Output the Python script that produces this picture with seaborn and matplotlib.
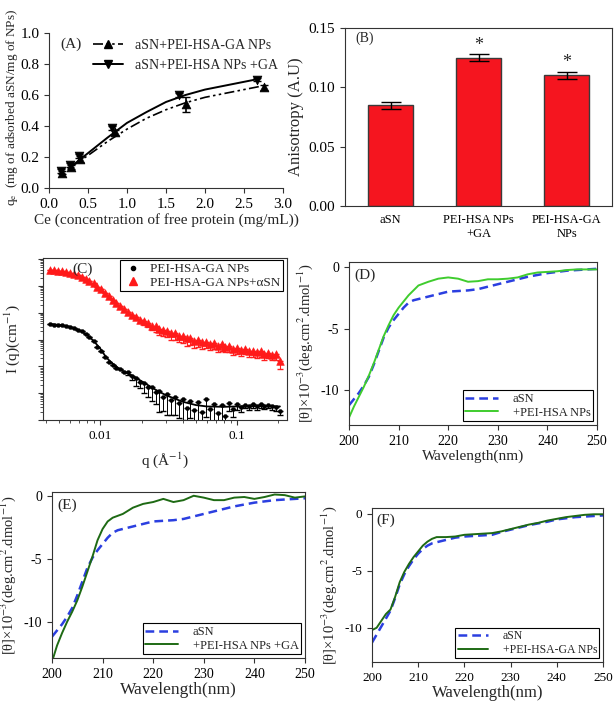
import numpy as np
import pandas as pd
import seaborn as sns
import matplotlib.pyplot as plt
from matplotlib.lines import Line2D
from matplotlib.ticker import LogLocator, NullFormatter

# (A) adsorption isotherm
ce_ga = [0.17, 0.28, 0.40, 0.84, 1.76, 2.76]
qe_ga = [0.10, 0.135, 0.185, 0.36, 0.54, 0.65]
qe_ga_err = [0.01, 0.015, 0.02, 0.015, 0.05, 0.015]
ce_np = [0.15, 0.27, 0.38, 0.81, 1.67, 2.67]
qe_np = [0.11, 0.15, 0.205, 0.385, 0.60, 0.70]
qe_np_err = [0.01, 0.012, 0.012, 0.012, 0.012, 0.008]
fit_ce = [0.25, 0.5, 0.75, 1.0, 1.25, 1.5, 1.75, 2.0, 2.25, 2.5, 2.7]
fit_np = [0.125, 0.225, 0.325, 0.42, 0.49, 0.555, 0.60, 0.635, 0.66, 0.685, 0.705]
fit_ga = [0.125, 0.21, 0.30, 0.38, 0.45, 0.505, 0.55, 0.585, 0.61, 0.635, 0.655]

# (B) anisotropy
aniso_labels = ["aSN", "PEI-HSA NPs\n+GA", "PEI-HSA-GA\nNPs"]
aniso_vals = [0.085, 0.125, 0.110]
aniso_err = [0.003, 0.003, 0.003]

# (C) SAXS
q_vals = [0.0043, 0.0046, 0.0049, 0.0052, 0.0056, 0.0060, 0.0064, 0.0068, 0.0073, 0.0078,
          0.0083, 0.0089, 0.0095, 0.0101, 0.0108, 0.0115, 0.0123, 0.0131, 0.0140, 0.0150,
          0.0160, 0.0171, 0.0182, 0.0195, 0.0208, 0.0222, 0.0237, 0.0253, 0.0270, 0.0288,
          0.0308, 0.0329, 0.0351, 0.0375, 0.0400, 0.0427, 0.0456, 0.0487, 0.0520, 0.0555,
          0.0593, 0.0633, 0.0676, 0.0722, 0.0771, 0.0823, 0.0879, 0.0938, 0.1002, 0.1070,
          0.1142, 0.1220, 0.1302, 0.1390, 0.1485, 0.1585, 0.1693, 0.1807, 0.1930, 0.2060]
I_red = [39.8, 38, 36, 35.5, 33, 31, 27.5, 25, 21, 18,
         15, 12.6, 9.5, 7.4, 5.5, 4.3, 3.1, 2.4, 1.75, 1.35,
         1.1, 0.85, 0.72, 0.55, 0.5, 0.42, 0.32, 0.31, 0.24, 0.22,
         0.21, 0.17, 0.18, 0.14, 0.135, 0.11, 0.115, 0.09, 0.1, 0.08,
         0.082, 0.07, 0.074, 0.06, 0.066, 0.055, 0.056, 0.045, 0.05, 0.041,
         0.045, 0.036, 0.038, 0.033, 0.036, 0.029, 0.031, 0.027, 0.028, 0.016]
I_red_err = [0] * 24 + [0.15, 0.12, 0.1, 0.12, 0.09, 0.08, 0.09, 0.07, 0.08, 0.06,
                        0.06, 0.05, 0.05, 0.04, 0.045, 0.035, 0.035, 0.03, 0.03, 0.025,
                        0.028, 0.022, 0.022, 0.018, 0.02, 0.016, 0.017, 0.014, 0.015, 0.012,
                        0.013, 0.011, 0.011, 0.01, 0.011, 0.008]
I_black = [0.38, 0.36, 0.35, 0.34, 0.32, 0.30, 0.26, 0.235, 0.2, 0.16,
           0.12, 0.085, 0.055, 0.038, 0.022, 0.0148, 0.0115, 0.0085, 0.0078, 0.0062,
           0.0063, 0.0042, 0.0038, 0.0027, 0.0025, 0.0017, 0.0017, 0.0011, 0.0012, 0.00072,
           0.00095, 0.00055, 0.00075, 0.00042, 0.0006, 0.00028, 0.00052, 0.00024, 0.00045, 0.0002,
           0.00063, 0.00026, 0.0004, 0.00018, 0.00036, 0.00014, 0.00042, 0.00025, 0.00038, 0.0003,
           0.00037, 0.00033, 0.0004, 0.00034, 0.00038, 0.00033, 0.00036, 0.00032, 0.0003, 0.00021]
I_black_err = [0] * 20 + [0.0015, 0.0012, 0.002, 0.0012, 0.0015, 0.001, 0.0012, 0.0007, 0.001, 0.0005,
                          0.0008, 0.0004, 0.0006, 0.0003, 0.0005, 0.0002, 0.0004, 0.00015, 0.00038, 0.00012,
                          0.0005, 0.0002, 0.00035, 0.0001, 0.0003, 0.00008, 0.0002, 0.00012, 0.00015, 0.0001,
                          0.0001, 0.0001, 0.00012, 0.0001, 0.0001, 0.00008, 0.00008, 0.00008, 0.00008, 0.00006]
q_fit = [0.0043, 0.005, 0.006, 0.007, 0.008, 0.009, 0.010, 0.011, 0.012, 0.014, 0.017,
         0.020, 0.025, 0.030, 0.040, 0.050, 0.060, 0.080, 0.100, 0.150, 0.206]
I_fit = [0.38, 0.35, 0.30, 0.22, 0.15, 0.085, 0.045, 0.022, 0.014, 0.0075, 0.0046,
         0.0028, 0.0014, 0.00085, 0.00048, 0.00036, 0.00032, 0.00031, 0.00032, 0.00033, 0.00032]

# (D)-(F) CD spectra
wl = [200, 201, 202, 203, 204, 205, 206, 207, 208, 209, 210, 211, 212, 213, 214, 215, 216,
      218, 220, 222, 224, 226, 228, 230, 232, 234, 236, 238, 240, 242, 244, 246, 248, 250]
cd_asn = [-11.2, -10.7, -10.2, -9.6, -8.9, -7.9, -6.8, -5.7, -4.9, -4.3, -3.8, -3.3, -2.9, -2.7, -2.6, -2.5, -2.4,
          -2.2, -2.0, -1.95, -1.9, -1.8, -1.6, -1.4, -1.2, -1.0, -0.8, -0.65, -0.5, -0.4, -0.3, -0.25, -0.2, -0.15]
cd_np = [-12.2, -11.3, -10.5, -9.7, -8.8, -7.8, -6.7, -5.6, -4.7, -3.9, -3.3, -2.8, -2.3, -1.9, -1.5, -1.35, -1.2,
         -0.95, -0.85, -0.95, -1.2, -1.15, -1.0, -1.0, -0.95, -0.85, -0.6, -0.45, -0.4, -0.35, -0.25, -0.2, -0.2, -0.2]
cd_np_ga = [-13.2, -11.9, -10.9, -10.0, -9.2, -8.3, -7.2, -6.0, -4.8, -3.5, -2.6, -2.0, -1.7, -1.55, -1.4, -1.15, -0.9,
            -0.6, -0.45, -0.2, -0.45, -0.3, 0.05, -0.1, -0.3, -0.3, -0.1, -0.05, -0.2, -0.05, 0.15, 0.1, -0.1, 0.0]
cd_asn_f = [-11.3, -10.6, -9.9, -9.2, -8.5, -7.4, -6.2, -5.3, -4.6, -4.0, -3.5, -3.1, -2.8, -2.6, -2.5, -2.4, -2.3,
            -2.1, -2.0, -1.95, -1.9, -1.85, -1.6, -1.4, -1.2, -1.0, -0.85, -0.7, -0.5, -0.4, -0.3, -0.25, -0.2, -0.15]
cd_ga_np = [-10.2, -10.0, -9.4, -8.8, -8.4, -7.3, -6.0, -5.1, -4.4, -3.8, -3.3, -2.8, -2.45, -2.2, -2.05, -2.05, -2.05,
            -2.0, -1.85, -1.8, -1.75, -1.7, -1.55, -1.35, -1.15, -0.95, -0.8, -0.6, -0.45, -0.3, -0.2, -0.1, -0.05, -0.05]

sns.set_style("ticks")
plt.rcParams['font.family'] = ['Liberation Serif', 'DejaVu Serif']
plt.rcParams['mathtext.fontset'] = 'stix'
plt.rcParams['axes.unicode_minus'] = False
plt.rcParams['axes.edgecolor'] = '#333333'
plt.rcParams['xtick.color'] = '#333333'
plt.rcParams['ytick.color'] = '#333333'
plt.rcParams['xtick.labelcolor'] = 'black'
plt.rcParams['ytick.labelcolor'] = 'black'

fig = plt.figure(figsize=(6.14, 7.02), dpi=100)


def box(x0, y0, x1, y1):
    return fig.add_axes([x0 / 614, 1 - y1 / 702, (x1 - x0) / 614, (y1 - y0) / 702])


dashdot = (0, (6, 2, 1.5, 2, 1.5, 2))

# ---- A
axA = box(49, 33, 283, 188)
sns.lineplot(x=fit_ce, y=fit_ga, ax=axA, color='black', lw=1.2, linestyle=dashdot)
sns.lineplot(x=fit_ce, y=fit_np, ax=axA, color='black', lw=1.4)
axA.errorbar(ce_ga, qe_ga, yerr=qe_ga_err, fmt='none', ecolor='black', capsize=3, lw=1.2)
axA.errorbar(ce_np, qe_np, yerr=qe_np_err, fmt='none', ecolor='black', capsize=3, lw=1.2)
sns.scatterplot(x=ce_ga, y=qe_ga, ax=axA, marker='^', s=40, color='black', edgecolor='black', zorder=3)
sns.scatterplot(x=ce_np, y=qe_np, ax=axA, marker='v', s=40, color='black', edgecolor='black', zorder=3)
axA.set_xlim(0, 3.0)
axA.set_ylim(0, 1.0)
axA.set_xticks([0, 0.5, 1.0, 1.5, 2.0, 2.5, 3.0])
axA.set_xticklabels(["0.0", "0.5", "1.0", "1.5", "2.0", "2.5", "3.0"])
axA.set_yticks([0, 0.2, 0.4, 0.6, 0.8, 1.0])
axA.set_yticklabels(["0.0", "0.2", "0.4", "0.6", "0.8", "1.0"])
axA.tick_params(labelsize=11)
sns.despine(ax=axA)
axA.set_xlabel("Ce (concentration of free protein (mg/mL))", fontsize=11, labelpad=2)
axA.set_ylabel(r"q$_\mathrm{e}$  (mg of adsorbed aSN/mg of NPs)", fontsize=9.5)
axA.yaxis.set_label_coords(-0.125, 0.52)
axA.text(0.05, 0.93, "(A)", transform=axA.transAxes, fontsize=11, va='center')
hA = [Line2D([], [], color='black', ls=dashdot, lw=1.2, marker='^', markersize=6),
      Line2D([], [], color='black', lw=1.4, marker='v', markersize=6)]
axA.legend(hA, ["aSN+PEI-HSA-GA NPs", "aSN+PEI-HSA NPs +GA"], loc='upper right',
           bbox_to_anchor=(1.03, 1.04), frameon=False, fontsize=10, handlelength=2.2,
           handletextpad=0.8, labelspacing=0.5)

# ---- B
axB = box(345, 28, 612, 206)
sns.barplot(x=aniso_labels, y=aniso_vals, ax=axB, color='#f5151f', edgecolor='#3a3a3a',
            linewidth=1, width=0.51, errorbar=None, saturation=1)
axB.errorbar([0, 1, 2], aniso_vals, yerr=aniso_err, fmt='none', ecolor='black', capsize=7, lw=1)
for i, (v, e) in enumerate(zip(aniso_vals, aniso_err)):
    if i > 0:
        axB.text(i, v + e + 0.0005, "*", ha='center', va='bottom', fontsize=13)
axB.set_xlim(-0.52, 2.515)
axB.set_ylim(0, 0.15)
axB.set_yticks([0, 0.05, 0.10, 0.15])
axB.set_yticklabels(["0.00", "0.05", "0.10", "0.15"])
axB.tick_params(axis='y', labelsize=11)
axB.tick_params(axis='x', length=0, labelsize=9, pad=6)
axB.set_ylabel("Anisotropy (A.U)", fontsize=12, labelpad=3)
axB.text(0.04, 0.94, "(B)", transform=axB.transAxes, fontsize=10, va='center')

# ---- C
axC = box(43, 258, 287, 420)
axC.set_xscale('log')
axC.set_yscale('log')
axC.errorbar(q_vals, I_red, yerr=[I_red_err, [0] * len(I_red_err)], fmt='none', ecolor='#ff2020',
             capsize=2.5, lw=0.8, zorder=1)
axC.errorbar(q_vals, I_black, yerr=[I_black_err, [0] * len(I_black_err)], fmt='none', ecolor='black',
             capsize=2, lw=0.7, zorder=1)
sns.lineplot(x=q_fit, y=I_fit, ax=axC, color='black', lw=1.3, zorder=2)
sns.scatterplot(x=q_vals, y=I_red, ax=axC, marker='^', s=30, color='#ff1a1a', edgecolor='#ff1a1a', zorder=3)
sns.scatterplot(x=q_vals, y=I_black, ax=axC, marker='o', s=9, color='black', edgecolor='black', zorder=3)
axC.set_xlim(0.0038, 0.232)
axC.set_ylim(1.0e-4, 110)
axC.set_xticks([0.01, 0.1])
axC.set_xticklabels(["0.01", "0.1"])
axC.yaxis.set_major_locator(LogLocator(base=10, numticks=20))
axC.yaxis.set_minor_locator(LogLocator(base=10, subs=np.arange(2, 10) * 1.0, numticks=20))
axC.yaxis.set_minor_formatter(NullFormatter())
axC.tick_params(axis='x', labelsize=9.5)
axC.tick_params(axis='y', labelleft=False)
axC.tick_params(axis='y', which='minor', length=2)
axC.set_xlabel("q (Å$^{-1}$)", fontsize=11, labelpad=6)
axC.set_ylabel("I (q)(cm$^{-1}$)", fontsize=11, labelpad=10)
axC.text(0.12, 0.93, "(C)", transform=axC.transAxes, fontsize=11, va='center')
hC = [Line2D([], [], color='black', ls='none', marker='o', markersize=3),
      Line2D([], [], color='#ff1a1a', ls='none', marker='^', markersize=6)]
legC = axC.legend(hC, ["PEI-HSA-GA NPs", "PEI-HSA-GA NPs+αSN"], loc='upper right',
                  bbox_to_anchor=(0.985, 0.985), fontsize=9.5, frameon=True, fancybox=False,
                  edgecolor='black', framealpha=1, borderpad=0.2, labelspacing=0.1,
                  handlelength=1.6, handletextpad=0.5, borderaxespad=0)
legC.get_frame().set_linewidth(0.8)

# ---- D, E, F
cd_ylabel = "[θ]×10$^{-3}$(deg.cm$^{2}$.dmol$^{-1}$)"
blue = '#2b3fe0'


def cd_panel(ax, asn, other, other_label, other_color, tag, ylim, tick_fs, xlab_fs, leg_fs):
    sns.lineplot(x=wl, y=asn, ax=ax, color=blue, lw=1.8, linestyle=(0, (3.5, 2)), label="aSN")
    sns.lineplot(x=wl, y=other, ax=ax, color=other_color, lw=1.4, label=other_label)
    ax.set_xlim(200, 250)
    ax.set_ylim(*ylim)
    ax.set_xticks([200, 210, 220, 230, 240, 250])
    ax.set_yticks([0, -5, -10])
    ax.set_yticklabels(["0", "-5", "-10"])
    ax.tick_params(labelsize=tick_fs)
    ax.set_xlabel("Wavelength(nm)", fontsize=xlab_fs, labelpad=1)
    ax.set_ylabel(cd_ylabel, fontsize=10.5, labelpad=4)
    ax.text(0.02, 0.92, tag, transform=ax.transAxes, fontsize=11, va='center')
    leg = ax.legend(loc='lower right', fontsize=leg_fs, frameon=True, fancybox=False,
                    edgecolor='black', framealpha=1, borderpad=0.2, labelspacing=0.15,
                    handlelength=2.6, handletextpad=1.2, borderaxespad=0.3)
    leg.get_frame().set_linewidth(0.8)


axD = box(349, 262, 597, 425)
cd_panel(axD, cd_asn, cd_np, "+PEI-HSA NPs", '#3fcc2e', "(D)", (-12.8, 0.4), 10, 11, 9)

axE = box(52, 492, 305, 658)
cd_panel(axE, cd_asn, cd_np_ga, "+PEI-HSA NPs +GA", '#1e6a14', "(E)", (-12.9, 0.35), 10, 12.5, 9)

axF = box(372, 508, 603, 662)
cd_panel(axF, cd_asn_f, cd_ga_np, "+PEI-HSA-GA NPs", '#1e6a14', "(F)", (-13.0, 0.5), 9.5, 12, 8.5)

fig.savefig("out.png", dpi=100)
